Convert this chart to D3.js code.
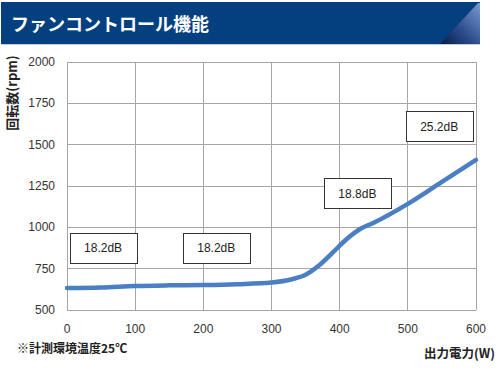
<!DOCTYPE html>
<html><head><meta charset="utf-8">
<script src="https://cdn.jsdelivr.net/npm/d3@7"></script>
<style>
html,body{margin:0;padding:0;background:#fff;}
svg{display:block;}
</style></head>
<body>
<script>
const title = "ファンコントロール機能";
const yAxisTitle = "回転数(rpm)";
const xAxisTitle = "出力電力(W)";
const footnote = "※計測環境温度25℃";
const xTicks = [0, 100, 200, 300, 400, 500, 600];
const yTicks = [500, 750, 1000, 1250, 1500, 1750, 2000];
const powerW = [0, 50, 100, 150, 200, 250, 300, 330, 350, 370, 390, 410, 430, 450, 500, 550, 600];
const rpm    = [633, 636, 645, 649, 651, 656, 666, 686, 713, 770, 848, 928, 990, 1028, 1142, 1275, 1408];
const noiseLabels = ["18.2dB", "18.2dB", "18.8dB", "25.2dB"];
const noiseX = [53, 219, 426, 546];
const noiseY = [877, 877, 1207, 1611];

const W = 500, H = 378;
const svg = d3.select("body").append("svg").attr("width", W).attr("height", H);

// banner
const defs = svg.append("defs");
const g1 = defs.append("linearGradient").attr("id","corner").attr("x1","0").attr("y1","1").attr("x2","1").attr("y2","0");
g1.append("stop").attr("offset","0").attr("stop-color","#071a45");
g1.append("stop").attr("offset","0.45").attr("stop-color","#2d4f8e");
g1.append("stop").attr("offset","1").attr("stop-color","#7a9ad0");
svg.append("rect").attr("x",1).attr("y",2).attr("width",479).attr("height",42).attr("fill","#04407f");
svg.append("path").attr("d","M440,44 L478,3 L480,3 L480,44 Z").attr("fill","url(#corner)");
svg.append("line").attr("x1",1).attr("x2",480).attr("y1",44.5).attr("y2",44.5).attr("stroke","#c8ccd4");
svg.append("text").attr("x",11).attr("y",31).attr("fill","#fff")
  .attr("font-family","'Noto Sans CJK JP', sans-serif").attr("font-weight","bold").attr("font-size",18)
  .text(title);

const x = d3.scaleLinear().domain([0,600]).range([67,476]);
const y = d3.scaleLinear().domain([500,2000]).range([310,62]);

const grid = svg.append("g").attr("stroke","#a6a6a6").attr("stroke-width",1).attr("shape-rendering","crispEdges");
xTicks.forEach(t => grid.append("line").attr("x1",x(t)).attr("x2",x(t)).attr("y1",y(2000)).attr("y2",y(500)));
yTicks.forEach(t => grid.append("line").attr("x1",x(0)).attr("x2",x(600)).attr("y1",y(t)).attr("y2",y(t)));

const font = "'Liberation Sans', Arial, sans-serif";
svg.append("g").selectAll("text").data(yTicks).join("text")
  .attr("x",55).attr("y",d=>y(d)+4).attr("text-anchor","end")
  .attr("font-family",font).attr("font-size",12).attr("fill","#333").text(d=>d);
svg.append("g").selectAll("text").data(xTicks).join("text")
  .attr("x",d=>x(d)).attr("y",333).attr("text-anchor","middle")
  .attr("font-family",font).attr("font-size",12).attr("fill","#333").text(d=>d);

// line
const line = d3.line().x((d,i)=>x(powerW[i])).y(d=>y(d)).curve(d3.curveMonotoneX);
svg.append("path").attr("d",line(rpm)).attr("fill","none").attr("stroke","#4a7fc4").attr("stroke-width",4.5).attr("stroke-linecap","round");

// labels
const bw = 67, bh = 30;
const lab = svg.append("g");
noiseLabels.forEach((t,i)=>{
  const cx = x(noiseX[i]), cy = y(noiseY[i]);
  lab.append("rect").attr("x",Math.round(cx-bw/2)+0.5).attr("y",Math.round(cy-bh/2)+0.5).attr("width",bw).attr("height",bh)
    .attr("fill","#fff").attr("stroke","#333").attr("stroke-width",1);
  lab.append("text").attr("x",cx).attr("y",cy+4.5).attr("text-anchor","middle")
    .attr("font-family",font).attr("font-size",12).attr("fill","#222").text(t);
});

svg.append("text").attr("transform","translate(17,93) rotate(-90)").attr("text-anchor","middle")
  .attr("font-family","'Noto Sans CJK JP', sans-serif").attr("font-weight","bold").attr("font-size",13).attr("fill","#222")
  .text(yAxisTitle);
svg.append("text").attr("x",17).attr("y",353)
  .attr("font-family","'Noto Sans CJK JP', sans-serif").attr("font-weight","bold").attr("font-size",12).attr("fill","#222")
  .text(footnote);
svg.append("text").attr("x",495).attr("y",358).attr("text-anchor","end")
  .attr("font-family","'Noto Sans CJK JP', sans-serif").attr("font-weight","bold").attr("font-size",12.5).attr("fill","#222")
  .text(xAxisTitle);
</script>
</body></html>
